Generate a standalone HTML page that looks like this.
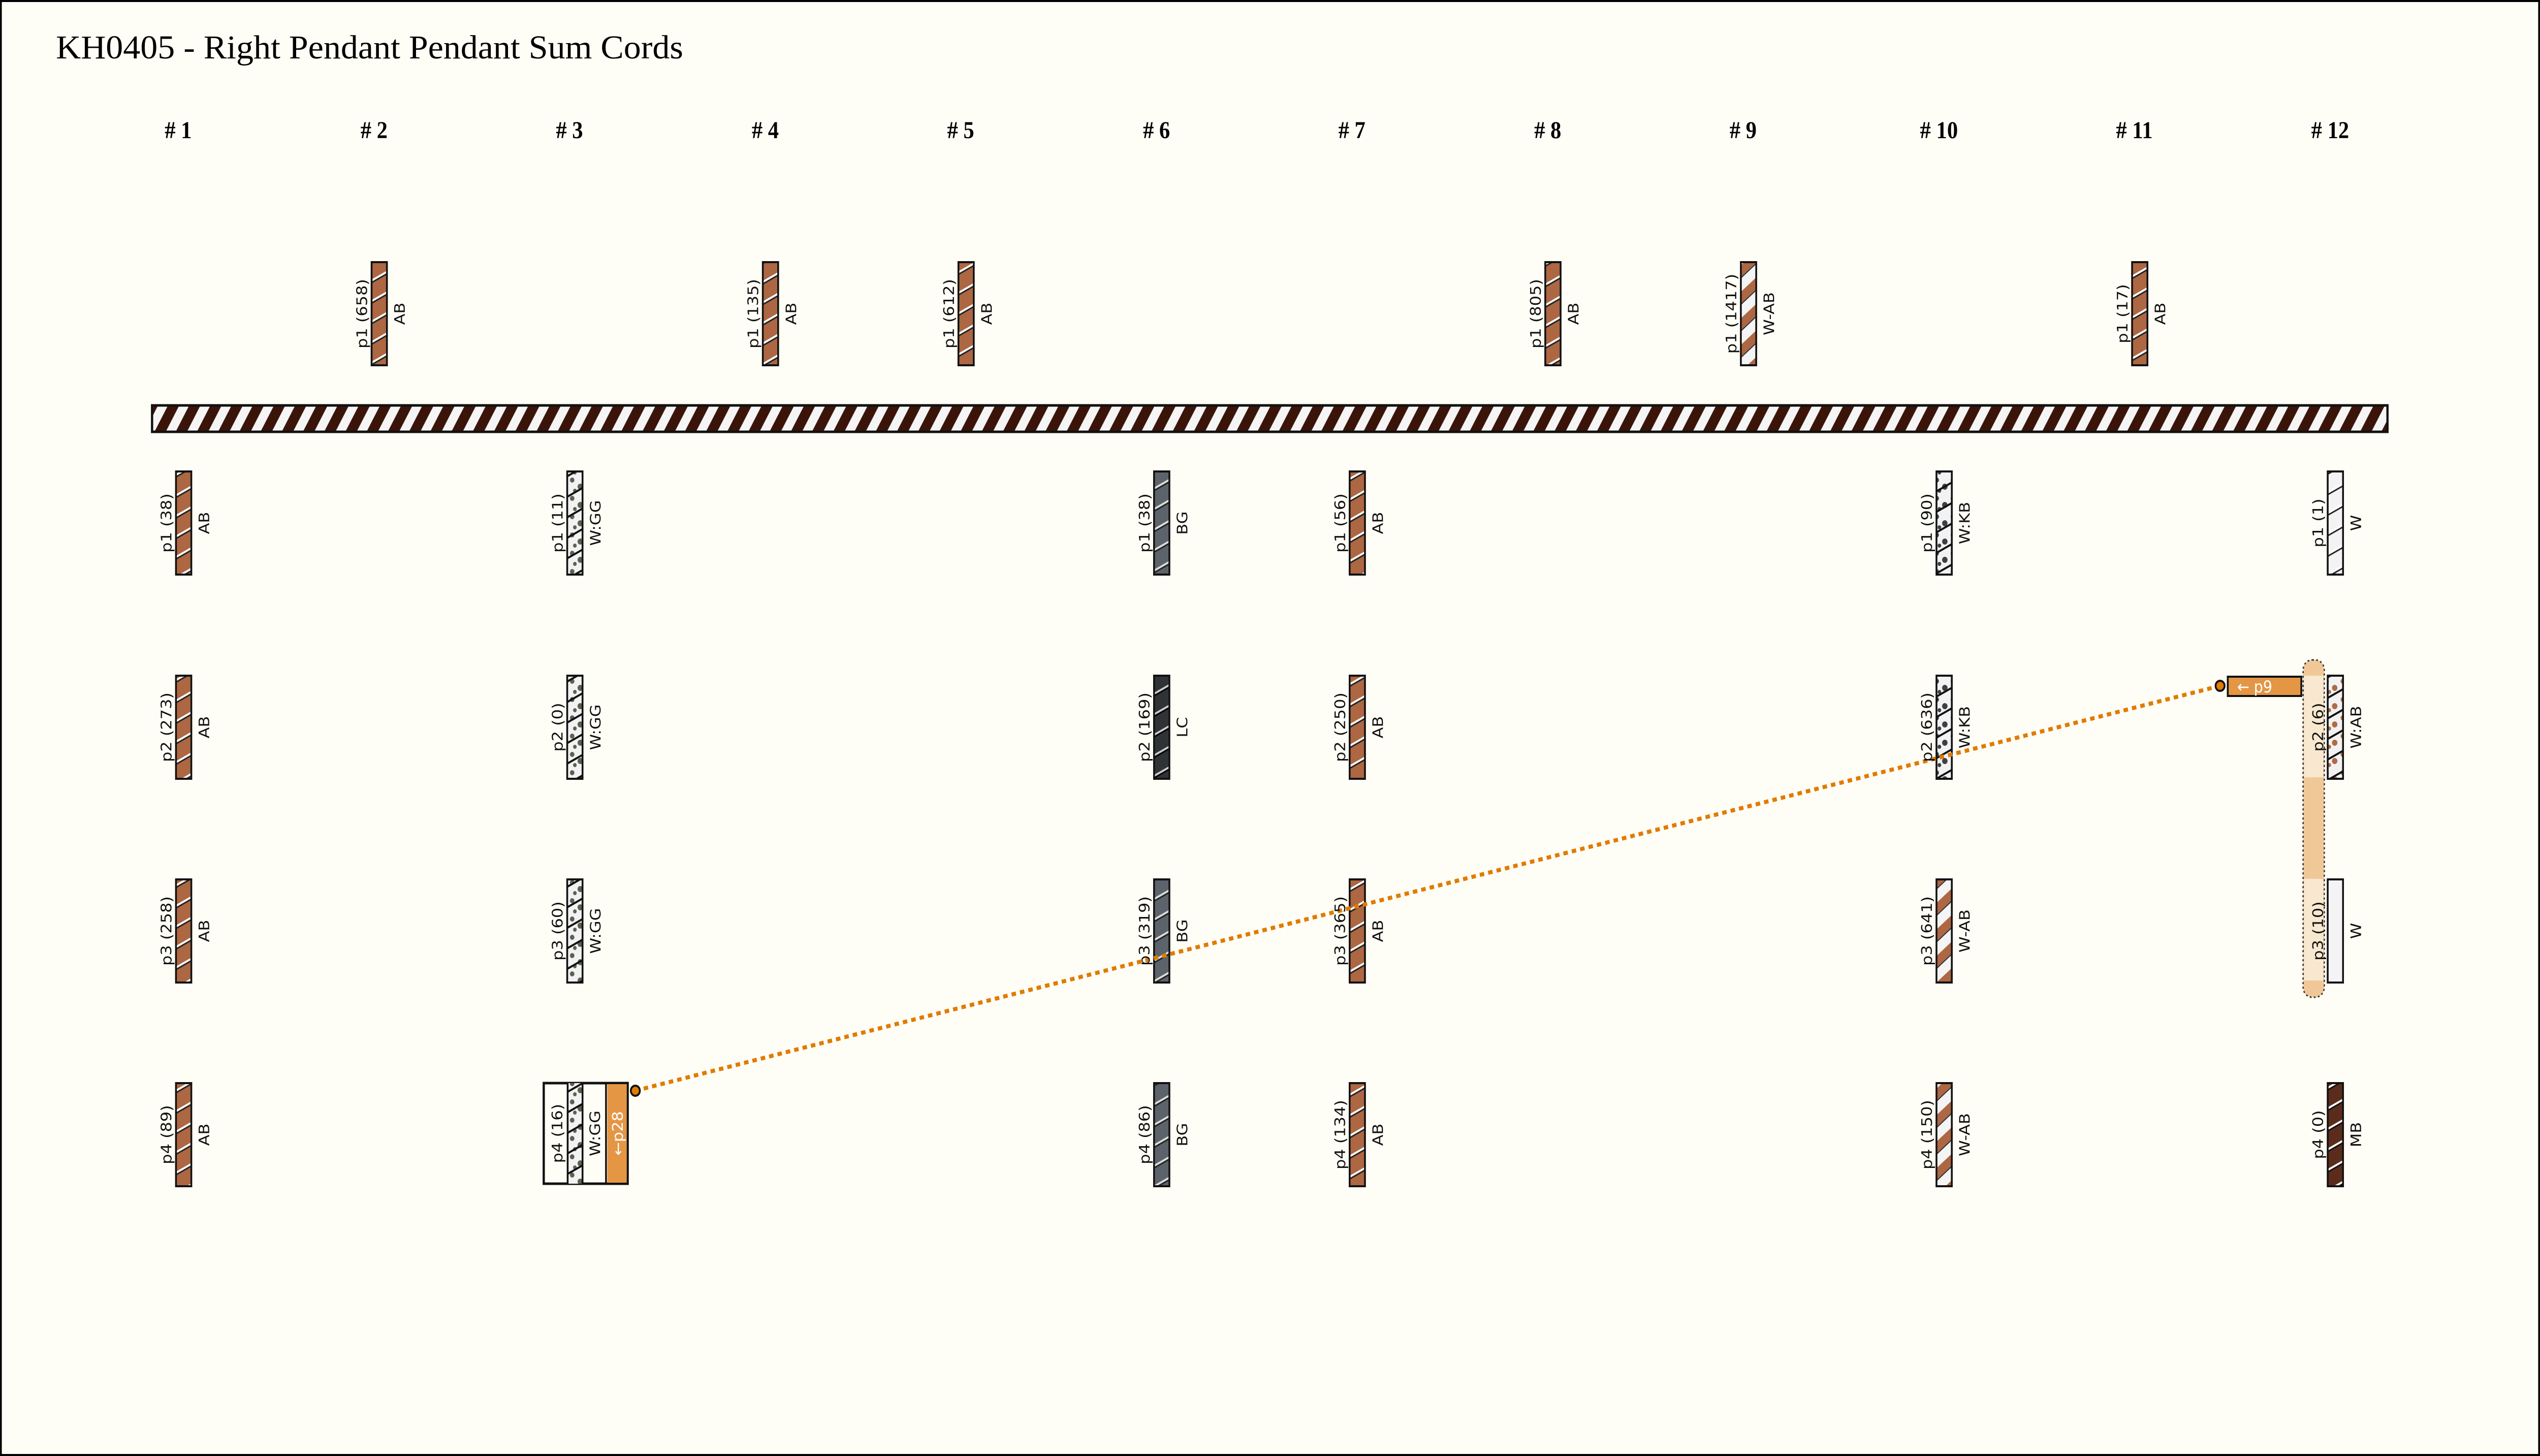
<!DOCTYPE html>
<html><head><meta charset="utf-8"><style>
html,body{margin:0;padding:0;background:#fffef6;overflow:hidden}
svg{display:block;width:100vw;height:100vh}
.t{font-family:"Liberation Serif",serif}
.l{font-family:"DejaVu Sans","Liberation Sans",sans-serif;font-size:32px;fill:#111}
</style></head><body>
<svg viewBox="0 0 5629 2866" preserveAspectRatio="none" xmlns="http://www.w3.org/2000/svg">
<defs>
<pattern id="ab" patternUnits="userSpaceOnUse" width="200" height="36" patternTransform="rotate(-27)">
<rect width="200" height="36" fill="#ad6742"/><rect y="0" width="200" height="4" fill="#fff"/><rect y="4" width="200" height="3" fill="#222"/></pattern>
<pattern id="bg" patternUnits="userSpaceOnUse" width="200" height="36" patternTransform="rotate(-27)">
<rect width="200" height="36" fill="#5c636b"/><rect y="0" width="200" height="4" fill="#ddd"/><rect y="4" width="200" height="3" fill="#222"/></pattern>
<pattern id="lc" patternUnits="userSpaceOnUse" width="200" height="36" patternTransform="rotate(-27)">
<rect width="200" height="36" fill="#303336"/><rect y="0" width="200" height="4" fill="#ccc"/><rect y="4" width="200" height="3" fill="#000"/></pattern>
<pattern id="mb" patternUnits="userSpaceOnUse" width="200" height="36" patternTransform="rotate(-27)">
<rect width="200" height="36" fill="#5b2c1c"/><rect y="0" width="200" height="4" fill="#fff"/><rect y="4" width="200" height="3" fill="#111"/></pattern>
<pattern id="w" patternUnits="userSpaceOnUse" width="200" height="36" patternTransform="rotate(-27)">
<rect width="200" height="36" fill="#f3f3f3"/><rect y="0" width="200" height="4" fill="#fff"/><rect y="4" width="200" height="3" fill="#222"/></pattern>
<pattern id="wab" patternUnits="userSpaceOnUse" width="200" height="40" patternTransform="rotate(-40)">
<rect width="200" height="40" fill="#f4f4f4"/><rect y="0" width="200" height="18" fill="#ad6742"/><rect y="18" width="200" height="2" fill="#222"/></pattern>
<pattern id="dotg" patternUnits="userSpaceOnUse" width="36" height="36">
<rect width="36" height="36" fill="#f2f2f2"/><circle cx="8" cy="9" r="5" fill="#5b6152"/><circle cx="26" cy="22" r="6" fill="#5b6152"/><circle cx="14" cy="30" r="4" fill="#5b6152"/></pattern>
<pattern id="dotk" patternUnits="userSpaceOnUse" width="36" height="36">
<rect width="36" height="36" fill="#f2f2f2"/><circle cx="8" cy="9" r="5" fill="#3b4045"/><circle cx="26" cy="22" r="6" fill="#3b4045"/><circle cx="14" cy="30" r="4" fill="#3b4045"/></pattern>
<pattern id="dota" patternUnits="userSpaceOnUse" width="36" height="36">
<rect width="36" height="36" fill="#f2f2f2"/><circle cx="8" cy="9" r="5" fill="#b06a45"/><circle cx="26" cy="22" r="6" fill="#b06a45"/><circle cx="14" cy="30" r="4" fill="#b06a45"/></pattern>
<pattern id="str" patternUnits="userSpaceOnUse" width="200" height="36" patternTransform="rotate(-27)">
<rect y="0" width="200" height="4" fill="#111"/></pattern>
<pattern id="bar" patternUnits="userSpaceOnUse" width="47" height="300" patternTransform="skewX(-30)">
<rect width="47" height="300" fill="#3b1409"/><rect x="12" width="22" height="300" fill="#f5f5f5"/></pattern>
</defs>
<rect x="2" y="2" width="5625" height="2862" fill="#fffef6" stroke="#000" stroke-width="4"/>
<text class="t" x="124" y="115" font-size="66" textLength="1390" lengthAdjust="spacingAndGlyphs">KH0405 - Right Pendant Pendant Sum Cords</text>
<g class="t" font-size="48" font-weight="bold" text-anchor="middle">
<text x="395" y="272"># 1</text><text x="829" y="272"># 2</text><text x="1262" y="272"># 3</text><text x="1696" y="272"># 4</text><text x="2129" y="272"># 5</text><text x="2563" y="272"># 6</text><text x="2996" y="272"># 7</text><text x="3430" y="272"># 8</text><text x="3863" y="272"># 9</text><text x="4297" y="272"># 10</text><text x="4730" y="272"># 11</text><text x="5164" y="272"># 12</text>
</g>
<rect x="337" y="798" width="4954" height="52" fill="url(#bar)" stroke="#111" stroke-width="5"/>

<rect x="5104" y="1299" width="47" height="664" rx="20" fill="#f0c898" stroke="#333" stroke-width="3" stroke-dasharray="4,5"/>
<rect x="5106" y="1330" width="43" height="200" fill="#f8e8d0"/>
<rect x="5106" y="1730" width="43" height="200" fill="#f8e8d0"/>

<g id="cords" stroke="#111" stroke-width="4"></g>
<line x1="1408" y1="2147" x2="4920" y2="1350" stroke="#e07b00" stroke-width="8" stroke-dasharray="10,9"/>
<rect x="1205" y="2132" width="186" height="198" fill="#fffef6" stroke="#111" stroke-width="5"/>
<rect x="1258" y="2132" width="33" height="198" fill="url(#dotg)"/>
<rect x="1258" y="2132" width="33" height="198" fill="url(#str)"/>
<line x1="1258" y1="2132" x2="1258" y2="2330" stroke="#111" stroke-width="4"/>
<line x1="1291" y1="2132" x2="1291" y2="2330" stroke="#111" stroke-width="4"/>
<line x1="1343" y1="2132" x2="1343" y2="2330" stroke="#111" stroke-width="4"/>
<rect x="1346" y="2134" width="43" height="194" fill="#e49645"/>
<text class="l" transform="translate(1246,2231) rotate(-90)" text-anchor="middle">p4 (16)</text>
<text class="l" transform="translate(1330,2231) rotate(-90)" text-anchor="middle">W:GG</text>
<text class="l" transform="translate(1380,2231) rotate(-90)" text-anchor="middle" style="fill:#fff">←p28</text>
<circle cx="1408" cy="2147" r="10" fill="#e07b00" stroke="#111" stroke-width="4"/>
<rect x="4937" y="1332" width="163" height="38" fill="#e49645" stroke="#111" stroke-width="4"/>
<text class="l" x="4958" y="1363" style="fill:#fff">← p9</text>
<circle cx="4920" cy="1350" r="10" fill="#e07b00" stroke="#111" stroke-width="4"/>

<g id="txt"></g>
</svg>
<script>
var cords=[
[2,0,658,'AB'],[4,0,135,'AB'],[5,0,612,'AB'],[8,0,805,'AB'],[9,0,1417,'W-AB'],[11,0,17,'AB'],
[1,1,38,'AB'],[1,2,273,'AB'],[1,3,258,'AB'],[1,4,89,'AB'],
[3,1,11,'W:GG'],[3,2,0,'W:GG'],[3,3,60,'W:GG'],
[6,1,38,'BG'],[6,2,169,'LC'],[6,3,319,'BG'],[6,4,86,'BG'],
[7,1,56,'AB'],[7,2,250,'AB'],[7,3,365,'AB'],[7,4,134,'AB'],
[10,1,90,'W:KB'],[10,2,636,'W:KB'],[10,3,641,'W-AB'],[10,4,150,'W-AB'],
[12,1,1,'W'],[12,2,6,'W:AB'],[12,3,10,'W'],[12,4,0,'MB']];
var fills={'AB':['url(#ab)'],'BG':['url(#bg)'],'LC':['url(#lc)'],'MB':['url(#mb)'],'W':['url(#w)'],'W-AB':['url(#wab)'],
'W:GG':['url(#dotg)','url(#str)'],'W:KB':['url(#dotk)','url(#str)'],'W:AB':['url(#dota)','url(#str)']};
var ys=[516,928,1330,1731,2132];
var ns='http://www.w3.org/2000/svg';var g=document.getElementById('cords');var tg=document.getElementById('txt');
function el(n,a,p){var e=document.createElementNS(ns,n);for(var k in a)e.setAttribute(k,a[k]);p.appendChild(e);return e;}
cords.forEach(function(c){
var x=390+(c[0]-1)*433.5,y=ys[c[1]],h=203,w=34;
var f=fills[c[3]];
if(c[0]==12&&c[1]==3){f=['#f4f4f4'];}
f.forEach(function(ff,i){el('rect',{x:x,y:y,width:w,height:h,fill:ff,stroke:i==f.length-1?'#111':'none','stroke-width':4},g);});
var cy=y+h/2;
var t=el('text',{'class':'l',transform:'translate('+(x-10)+','+cy+') rotate(-90)','text-anchor':'middle'},tg);t.textContent='p'+(c[1]||1)+' ('+c[2]+')';
var t2=el('text',{'class':'l',transform:'translate('+(x+74)+','+cy+') rotate(-90)','text-anchor':'middle'},tg);t2.textContent=c[3];
});
</script>
</body></html>
